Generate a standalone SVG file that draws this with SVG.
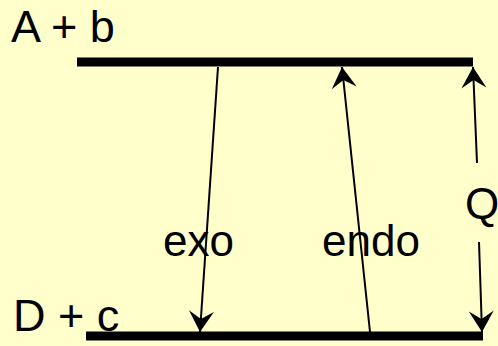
<svg xmlns="http://www.w3.org/2000/svg" width="498" height="346" viewBox="0 0 498 346">
  <style>
    .lvl { stroke: #000; stroke-width: 9; fill: none; }
    .arr { stroke: #000; stroke-width: 2; fill: none; marker-end: url(#head); }
    .txt { font-family: "Liberation Sans", Arial, sans-serif; font-size: 44px; fill: #000; }
    .big { font-size: 45px; }
  </style>
  <defs>
    <marker id="head" markerUnits="userSpaceOnUse" viewBox="-22 -13 24 26" refX="0" refY="0" markerWidth="24" markerHeight="26" orient="auto">
      <path d="M0,0 L-21,-12.5 L-13,0 L-21,12.5 Z" fill="#000"/>
    </marker>
  </defs>
  <rect width="498" height="346" fill="#FFFFCC"/>
  <g id="level-top">
    <line class="lvl" x1="77" y1="62" x2="473" y2="62"/>
    <text class="txt big" x="11" y="42">A + b</text>
  </g>
  <g id="level-bottom">
    <line class="lvl" x1="86" y1="336" x2="483" y2="336"/>
    <text class="txt big" x="13" y="331">D + c</text>
  </g>
  <g id="connectors">
    <path class="arr" d="M218,67 L200,332"/>
    <path class="arr" d="M370,332 L342,67"/>
    <path class="arr" d="M477,163 L473,67"/>
    <path class="arr" d="M479,242 L482,332"/>
    <text class="txt" x="163" y="256">exo</text>
    <text class="txt" x="322" y="256">endo</text>
    <text class="txt" x="465" y="219">Q</text>
  </g>
</svg>
